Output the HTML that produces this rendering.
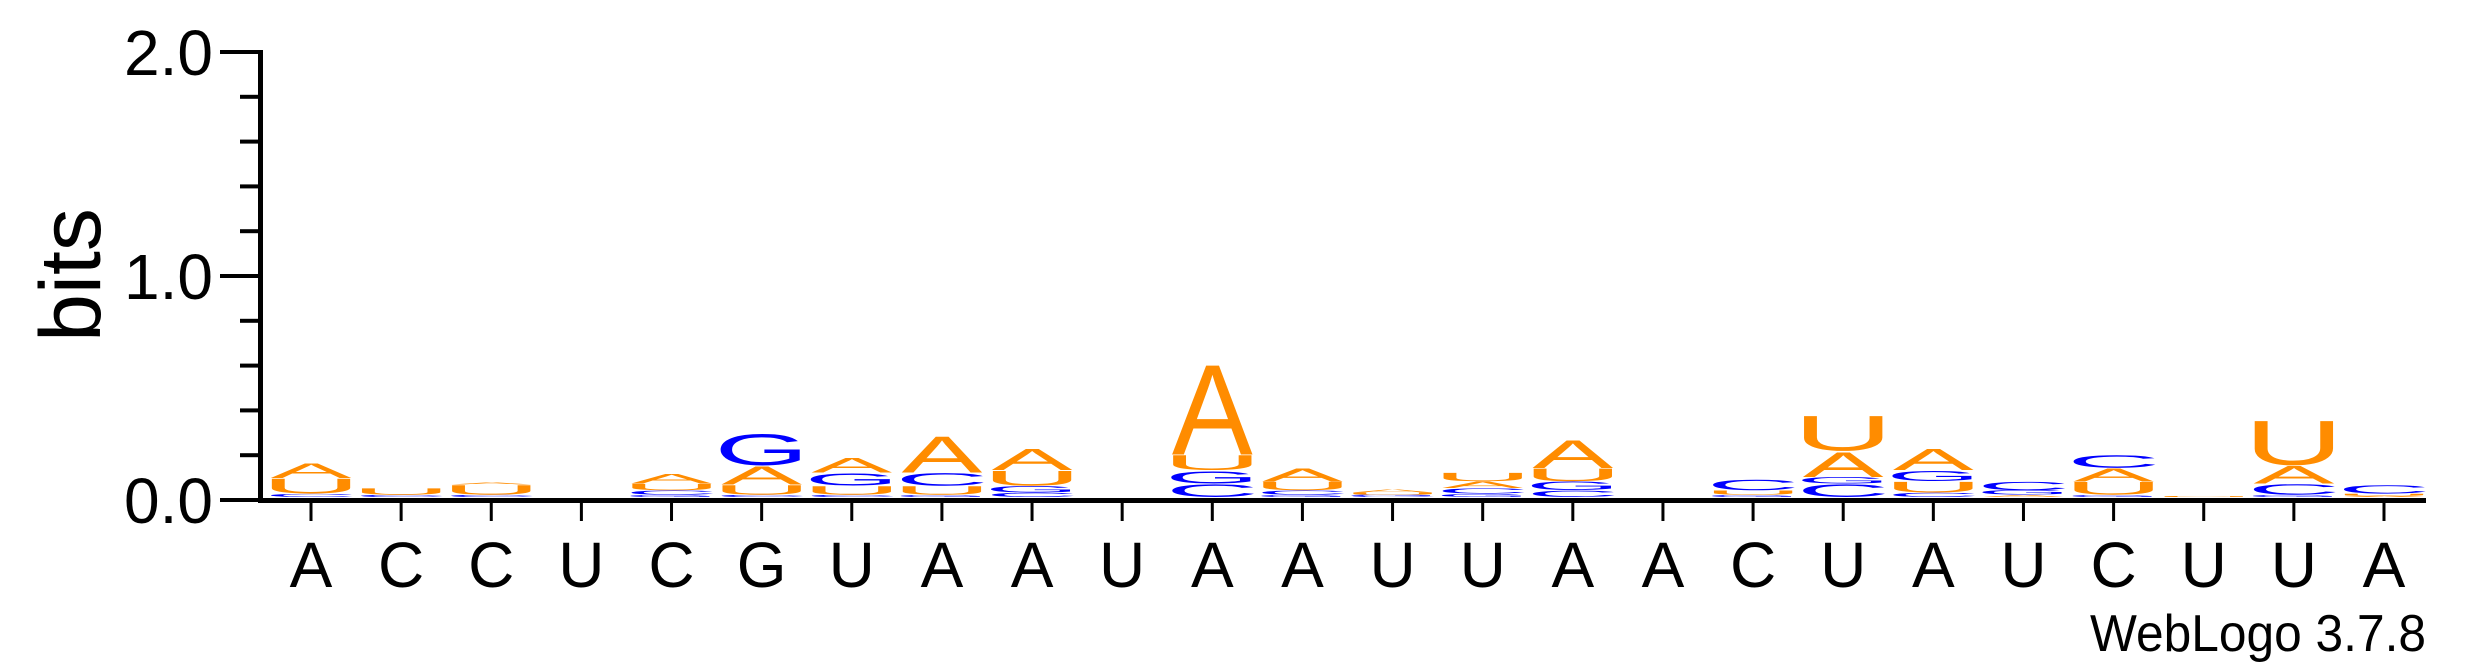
<!DOCTYPE html>
<html><head><meta charset="utf-8"><style>html,body{margin:0;padding:0;background:#fff;}svg{display:block;}</style></head>
<body>
<svg id="chart" width="2475" height="667" viewBox="0 0 2475 667" xmlns="http://www.w3.org/2000/svg" font-family="Liberation Sans, Arial, sans-serif">
<g id="axes"></g>
<g id="stacks"></g>
<text transform="translate(100,275) rotate(-90)" text-anchor="middle" font-size="86">bits</text>
<text x="2426" y="651" text-anchor="end" font-size="52" textLength="336" lengthAdjust="spacingAndGlyphs">WebLogo 3.7.8</text>
</svg>
<script>
const positions = ["A","C","C","U","C","G","U","A","A","U","A","A","U","U","A","A","C","U","A","U","C","U","U","A"];
const stackLetters = [
 ["C","U","A"],["C","U"],["C","U","A"],[],["G","C","U","A"],["C","U","A","G"],
 ["C","U","G","A"],["G","U","C","A"],["C","G","U","A"],[],["C","G","U","A"],["G","C","U","A"],
 ["C","G","U","A"],["G","C","A","U"],["C","G","U","A"],[],["G","U","C"],["C","G","A","U"],
 ["C","U","G","A"],["A","G","C"],["G","U","A","C"],["U"],["G","C","A","U"],["A","U","C"]
];
const stackBits = [
 [0.015,0.07,0.07],[0.01,0.03],[0.01,0.045,0.01],[],[0.01,0.02,0.03,0.045],[0.01,0.045,0.085,0.15],
 [0.01,0.04,0.06,0.07],[0.01,0.04,0.06,0.17],[0.02,0.03,0.07,0.1],[],[0.06,0.06,0.07,0.42],[0.01,0.02,0.04,0.06],
 [0.005,0.005,0.01,0.015],[0.015,0.025,0.03,0.04],[0.03,0.04,0.06,0.13],[],[0.01,0.02,0.05],[0.06,0.03,0.115,0.165],
 [0.02,0.05,0.05,0.1],[0.01,0.02,0.04],[0.01,0.06,0.06,0.06],[0.005],[0.01,0.05,0.08,0.21],[0.005,0.01,0.04]
];
const yTicks = [0,0.2,0.4,0.6,0.8,1.0,1.2,1.4,1.6,1.8,2.0];
const yTickLabels = {"0":"0.0","1":"1.0","2":"2.0"};

const NS="http://www.w3.org/2000/svg";
const x0=311, dx=90.13, yZero=500, pxPerBit=224, stackBase=497, letterW=80;
const xPos = i => x0 + i*dx;
const yPos = b => yZero - b*pxPerBit;
const colors={A:"#FF8C00",U:"#FF8C00",C:"#0000FF",G:"#0000FF"};
const axes=document.getElementById('axes'), stacks=document.getElementById('stacks');
function mk(tag, attrs, parent){const e=document.createElementNS(NS,tag);for(const k in attrs)e.setAttribute(k,attrs[k]);parent.appendChild(e);return e;}

let ya=mk('rect',{x:258,y:yPos(2)-2,width:5,height:yZero-yPos(2)+5,fill:'#000'},axes);


let xa=mk('rect',{x:258,y:498,width:2426-258,height:5,fill:'#000'},axes);


yTicks.forEach(t=>{
  const major = Math.abs(t-Math.round(t))<1e-6;
  const r=mk('rect',{x:major?220:240,y:yPos(t)-2,width:major?40:20,height:4,fill:'#000'},axes);
  
  
  if(major){
    const tx=mk('text',{x:213,y:yPos(t)+23,'text-anchor':'end','font-size':64},axes);
    tx.textContent=yTickLabels[String(Math.round(t))];
    
    
  }
});
positions.forEach((p,i)=>{
  const r=mk('rect',{x:xPos(i)-1.5,y:503,width:3,height:18,fill:'#000'},axes);
  
  
  const tx=mk('text',{x:xPos(i),y:587,'text-anchor':'middle','font-size':64},axes);
  tx.textContent=p;
  
  
});
const inkW={A:66,C:62,G:66,U:58}, capH={A:72.9,C:75.5,G:75.5,U:74};
const baseOff={A:0,C:1.3,G:1.3,U:1.3};
stackLetters.forEach((letters,i)=>{
  let cum=0;
  letters.forEach((L,j)=>{
    const b=stackBits[i][j];
    const h=b*pxPerBit;
    const bottom=stackBase-cum*pxPerBit;
    cum+=b;
    if(h<0.3) return;
    const sx=letterW/inkW[L], sy=h/capH[L];
    const t=mk('text',{'text-anchor':'middle','font-size':100,fill:colors[L],
      transform:`translate(${xPos(i)},${bottom}) scale(${sx},${sy}) translate(0,${-baseOff[L]})`},stacks);
    t.textContent=L;
    
    
  });
});
</script>
</body></html>
